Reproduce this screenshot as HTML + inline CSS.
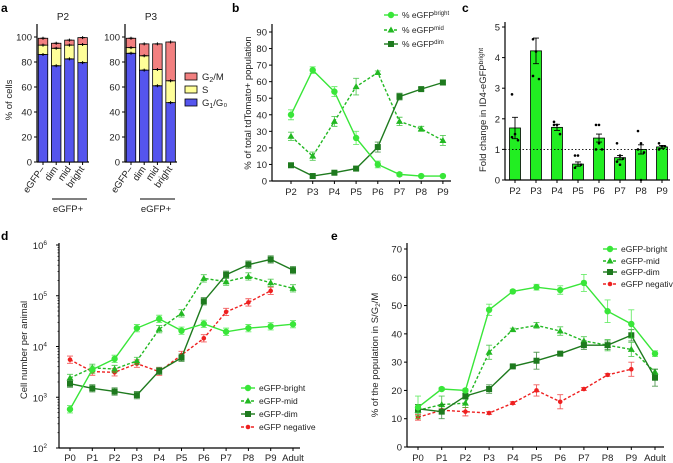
<!DOCTYPE html>
<html><head><meta charset="utf-8">
<style>
html,body{margin:0;padding:0;background:#fff}
svg{display:block;font-family:"Liberation Sans",Arial,sans-serif}
</style></head>
<body>
<svg id="fig" width="673" height="463" viewBox="0 0 673 463" xmlns="http://www.w3.org/2000/svg"></svg>
<script>
// ---------- Panel a data ----------
const aCats = ["eGFP–","dim","mid","bright"];
const aP2G1 = [86,77,82.5,79.5];
const aP2S = [93.5,91,93.5,94];
const aP2Tot = [99,95,97.5,99.5];
const aP3G1 = [87,73.5,61,47.5];
const aP3S = [91.5,85,74,65];
const aP3Tot = [99,94.5,94.5,96];
const aTicks = [0,20,40,60,80,100];
// ---------- Panel b data ----------
const bCats = ["P2","P3","P4","P5","P6","P7","P8","P9"];
const bBright = [40,67,54,26,10,4,3,3];
const bBrightErr = [3,2,3,4,2,1,0.5,0.5];
const bMid = [27,15,36,57,65.5,36,31.5,24.5];
const bMidErr = [2.5,2.5,3,5,1,2.5,1.5,3];
const bDim = [9.5,3,5,7.5,20.5,51,55.5,59.5];
const bDimErr = [1,1,1,1,3,2,1,1.5];
const bTicks = [0,10,20,30,40,50,60,70,80,90];
// ---------- Panel c data ----------
const cCats = ["P2","P3","P4","P5","P6","P7","P8","P9"];
const cVals = [1.7,4.22,1.72,0.52,1.37,0.73,1.0,1.08];
const cErr = [0.35,0.42,0.1,0.07,0.13,0.07,0.15,0.05];
const cDots = [[2.8,1.5,1.3,1.4],[4.6,4.2,3.3,3.4],[1.9,1.8,1.5,1.8],[0.8,0.8,0.5,0.4],[1.8,1.8,1.0,1.0,1.2],[1.2,0.8,0.7,0.6,0.5],[1.6,1.2,0.9,1.0,0.0],[1.2,1.1,1.1,1.0,1.1]];
const cTicks = [0,1,2,3,4,5];
// ---------- Panel d data ----------
const dCats = ["P0","P1","P2","P3","P4","P5","P6","P7","P8","P9","Adult"];
const dBright = [580,3500,5700,23000,35000,20500,28000,19500,23000,25000,27500];
const dMid = [2400,3800,3600,5200,22000,45000,220000,190000,240000,180000,140000];
const dDim = [1850,1500,1300,1100,3300,6000,78000,260000,410000,520000,320000];
const dNeg = [5500,3200,3100,4600,3200,6800,14500,48000,74000,125000,null];
const dTickExp = [2,3,4,5,6];
// ---------- Panel e data ----------
const eCats = ["P0","P1","P2","P3","P4","P5","P6","P7","P8","P9","Adult"];
const eBright = [14,20.5,20,48.5,55,56.5,55.5,58,48,43.5,33];
const eBrightErr = [4,0.5,0.5,2,0.5,1,1.5,3,4,5,1];
const eMid = [13,15,15.5,33.5,41.5,43,41,37.5,36,34.5,26.5];
const eMidErr = [2,3,1.5,2.5,0.5,1,1.5,1.5,2,2.5,1];
const eDim = [13.5,12.5,18,20.5,28.5,30.5,33,36,36,39.5,24.5];
const eDimErr = [1.5,2.5,1,1.5,0.5,3,0.5,1.5,1.5,2,3];
const eNeg = [10.5,13,12.5,12,15.5,20,16,20.5,25.5,27.5,null];
const eNegErr = [1,0.5,1.5,0.5,0.5,2,2.5,0.5,0.5,2.5,0];
const eTicks = [0,10,20,30,40,50,60,70];

const C_BRIGHT="#39e639", C_MID="#22b822", C_DIM="#1e7a1e", C_NEG="#ee2020";
const NS="http://www.w3.org/2000/svg";
const svg=document.getElementById('fig');
function mk(tag,attrs,parent){const e=document.createElementNS(NS,tag);for(const k in attrs)e.setAttribute(k,attrs[k]);(parent||svg).appendChild(e);return e;}
function txt(s,x,y,size,anchor,parent,extra){const t=mk('text',Object.assign({x:x,y:y,'font-size':size,'text-anchor':anchor||'start',fill:'#222'},extra||{}),parent);t.textContent=s;return t;}
function grp(name){const g=mk('g',{});return g;}

// panel letters
[["a",1,12],["b",232,12],["c",462,12],["d",1,240],["e",331,240]].forEach(p=>{
  const t=txt(p[0],p[1],p[2],12,'start',svg,{'font-weight':'bold',fill:'#000'});
  
  
});

// ===== Panel a =====
function stackPanel(name,x0,g1,s,tot,title){
  const g=grp(name);
  const y0=162,y100=37;
  const ya=v=>y0+(y100-y0)*v/100;
  mk('line',{x1:x0,y1:24,x2:x0,y2:y0,stroke:'#000','stroke-width':1.2},g);
  mk('line',{x1:x0,y1:y0,x2:x0+52,y2:y0,stroke:'#000','stroke-width':1.2},g);
  aTicks.forEach(v=>{mk('line',{x1:x0-3,y1:ya(v),x2:x0,y2:ya(v),stroke:'#000'},g);txt(String(v),x0-5,ya(v)+3.5,9.5,'end',g);});
  const tt=txt(title,x0+26,20,10,'middle',g);
  
  
  aCats.forEach((c,i)=>{
    const cx=x0+6+i*13.2, w=9.5;
    const segs=[[0,g1[i],'#5555ee'],[g1[i],s[i],'#ffff99'],[s[i],tot[i],'#f28080']];
    segs.forEach((sg,j)=>{
      const r=mk('rect',{x:cx-w/2,y:ya(sg[1]),width:w,height:ya(sg[0])-ya(sg[1]),fill:sg[2],stroke:'#000','stroke-width':0.8},g);
      
      
    });
    [g1[i],s[i],tot[i]].forEach(v=>{mk('line',{x1:cx-2.5,y1:ya(v),x2:cx+2.5,y2:ya(v),stroke:'#000','stroke-width':1},g);mk('line',{x1:cx,y1:ya(v)-1.5,x2:cx,y2:ya(v)+1.5,stroke:'#000','stroke-width':1},g);});
    mk('line',{x1:cx,y1:y0,x2:cx,y2:y0+3,stroke:'#000'},g);
    txt(c,cx+2,y0+7,9.5,'end',g,{transform:'rotate(-55 '+(cx+2)+' '+(y0+7)+')'});
  });
  mk('line',{x1:x0+15,y1:199,x2:x0+50,y2:199,stroke:'#000','stroke-width':1},g);
  txt('eGFP+',x0+31,212,9.5,'middle',g);
}
stackPanel('panel-a-p2',37,aP2G1,aP2S,aP2Tot,'P2');
stackPanel('panel-a-p3',125,aP3G1,aP3S,aP3Tot,'P3');
(function(){const g=grp('panel-a-ylabel');txt('% of cells',12,100,9.5,'middle',g,{transform:'rotate(-90 12 100)'});})();
(function(){const g=grp('panel-a-legend');
  [['G','2','/M','#f28080',77],['S','','','#ffff99',90],['G','1','/G₀','#5555ee',103]].forEach(l=>{
    mk('rect',{x:185,y:l[4]-4,width:12,height:7,fill:l[3],stroke:'#000','stroke-width':0.8},g);
    const t=txt(l[0],202,l[4]+3,9.5,'start',g);
    if(l[1]){const s=mk('tspan',{'font-size':7,dy:2},t);s.textContent=l[1];const s2=mk('tspan',{dy:-2},t);s2.textContent=l[2];}
  });})();

// generic marker
function marker(shape,x,y,color,g){
  if(shape==='circle')return mk('circle',{cx:x,cy:y,r:3.2,fill:color},g);
  if(shape==='tri')return mk('polygon',{points:`${x},${y-3.5} ${x-3.5},${y+2.5} ${x+3.5},${y+2.5}`,fill:color},g);
  if(shape==='sq')return mk('rect',{x:x-3,y:y-3,width:6,height:6,fill:color},g);
  return mk('circle',{cx:x,cy:y,r:2.3,fill:color},g);
}
function series(name,vals,errs,xf,yf,color,shape,dash,g,errIsRatio){
  const sg=grp(name);g.appendChild(sg);
  const pts=[];vals.forEach((v,i)=>{if(v!=null)pts.push([xf(i),yf(v),v,i]);});
  const p=mk('polyline',{points:pts.map(p=>p[0]+','+p[1]).join(' '),fill:'none',stroke:color,'stroke-width':1.4,'stroke-dasharray':dash||'none'},sg);
  
  
  pts.forEach(pt=>{
    if(errs){const e=errs[pt[3]]||0;let y1,y2;
      if(errIsRatio){y1=yf(pt[2]*(1+e));y2=yf(pt[2]/(1+e));}else{y1=yf(pt[2]+e);y2=yf(pt[2]-e);}
      mk('path',{d:`M${pt[0]},${y1}V${y2}M${pt[0]-3},${y1}H${pt[0]+3}M${pt[0]-3},${y2}H${pt[0]+3}`,stroke:color,'stroke-width':0.9,fill:'none',opacity:0.75},sg);}
    const m=marker(shape,pt[0],pt[1],color,sg);
    
    
  });
}
function legend(name,items,x,ys,g){
  const lg=grp(name);g.appendChild(lg);
  items.forEach((it,i)=>{
    const y=ys[i];
    mk('line',{x1:x,y1:y,x2:x+14,y2:y,stroke:it.c,'stroke-width':1.4,'stroke-dasharray':it.d||'none'},lg);
    marker(it.s,x+7,y,it.c,lg);
    const t=txt(it.t,x+18,y+3,8.5,'start',lg);
    if(it.sup){const s=mk('tspan',{'font-size':6,dy:-3},t);s.textContent=it.sup;}
    
    
  });
}

// ===== Panel b =====
(function(){
  const g=grp('panel-b');
  const x0=272,y0=181,y90=32;
  const xf=i=>291+i*21.7, yf=v=>y0+(y90-y0)*v/90;
  mk('line',{x1:x0,y1:24,x2:x0,y2:y0,stroke:'#000','stroke-width':1.2},g);
  mk('line',{x1:x0,y1:y0,x2:451,y2:y0,stroke:'#000','stroke-width':1.2},g);
  bTicks.forEach(v=>{mk('line',{x1:x0-3,y1:yf(v),x2:x0,y2:yf(v),stroke:'#000'},g);txt(String(v),x0-5,yf(v)+3.5,9.5,'end',g);});
  bCats.forEach((c,i)=>{mk('line',{x1:xf(i),y1:y0,x2:xf(i),y2:y0+3,stroke:'#000'},g);txt(c,xf(i),y0+14,9.5,'middle',g);});
  txt('% of total tdTomato+ population',251,103,9.5,'middle',g,{transform:'rotate(-90 251 103)'});
  series('b-series-mid',bMid,bMidErr,xf,yf,C_MID,'tri','3,2',g);
  series('b-series-dim',bDim,bDimErr,xf,yf,C_DIM,'sq',null,g);
  series('b-series-bright',bBright,bBrightErr,xf,yf,C_BRIGHT,'circle',null,g);
  legend('b-legend',[{t:'% eGFP',sup:'bright',c:C_BRIGHT,s:'circle'},{t:'% eGFP',sup:'mid',c:C_MID,s:'tri',d:'3,2'},{t:'% eGFP',sup:'dim',c:C_DIM,s:'sq'}],384,[15,30,44],g);
})();

// ===== Panel c =====
(function(){
  const g=grp('panel-c');
  const x0=505,y0=180,y5=27;
  const xf=i=>515+i*21, yf=v=>y0+(y5-y0)*v/5;
  cVals.forEach((v,i)=>{
    const r=mk('rect',{x:xf(i)-5.5,y:yf(v),width:11,height:y0-yf(v),fill:'#22ee22',stroke:'#000','stroke-width':0.8},g);
    
    
    const e=cErr[i];
    mk('path',{d:`M${xf(i)},${yf(v+e)}V${yf(v-e)}M${xf(i)-3},${yf(v+e)}H${xf(i)+3}M${xf(i)-3},${yf(v-e)}H${xf(i)+3}`,stroke:'#000','stroke-width':0.9,fill:'none'},g);
    cDots[i].forEach((d,j)=>mk('circle',{cx:xf(i)-3+(j%3)*3,cy:yf(d),r:1.3,fill:'#000'},g));
  });
  mk('line',{x1:x0,y1:yf(1),x2:670,y2:yf(1),stroke:'#000','stroke-width':0.9,'stroke-dasharray':'1.5,2'},g);
  mk('line',{x1:x0,y1:22,x2:x0,y2:y0,stroke:'#000','stroke-width':1.2},g);
  mk('line',{x1:x0,y1:y0,x2:670,y2:y0,stroke:'#000','stroke-width':1.2},g);
  cTicks.forEach(v=>{mk('line',{x1:x0-3,y1:yf(v),x2:x0,y2:yf(v),stroke:'#000'},g);txt(String(v),x0-5,yf(v)+3.5,9.5,'end',g);});
  cCats.forEach((c,i)=>{mk('line',{x1:xf(i),y1:y0,x2:xf(i),y2:y0+3,stroke:'#000'},g);txt(c,xf(i),y0+14,9.5,'middle',g);});
  const t=txt('Fold change in ID4-eGFP',486,110,9.5,'middle',g,{transform:'rotate(-90 486 110)'});
  const s=mk('tspan',{'font-size':6.5,dy:-3},t);s.textContent='bright';
})();

// ===== Panel d =====
(function(){
  const g=grp('panel-d');
  const x0=59,y6=245,y2=448;
  const xf=i=>70+i*22.3, yf=v=>y2+(y6-y2)*(Math.log10(v)-2)/4;
  mk('line',{x1:x0,y1:y6-2,x2:x0,y2:y2,stroke:'#000','stroke-width':1.2},g);
  mk('line',{x1:x0,y1:y2,x2:300,y2:y2,stroke:'#000','stroke-width':1.2},g);
  dTickExp.forEach(e=>{const y=yf(Math.pow(10,e));mk('line',{x1:x0-3,y1:y,x2:x0,y2:y,stroke:'#000'},g);
    for(let k=2;k<10&&e<6;k++){const yy=yf(k*Math.pow(10,e));mk('line',{x1:x0-1.5,y1:yy,x2:x0,y2:yy,stroke:'#000','stroke-width':0.7},g);}
    const t=txt('10',x0-12,y+4,9.5,'end',g);const s=mk('tspan',{'font-size':6.5,dy:-4},t);s.textContent=String(e);});
  dCats.forEach((c,i)=>{mk('line',{x1:xf(i),y1:y2,x2:xf(i),y2:y2+3,stroke:'#000'},g);txt(c,xf(i),y2+13,9.5,'middle',g);});
  txt('Cell number per animal',27,350,9.5,'middle',g,{transform:'rotate(-90 27 350)'});
  const pe=dCats.map(()=>0.18);
  series('d-series-neg',dNeg,pe,xf,yf,C_NEG,'dot','3,2',g,true);
  series('d-series-mid',dMid,pe,xf,yf,C_MID,'tri','3,2',g,true);
  series('d-series-dim',dDim,pe,xf,yf,C_DIM,'sq',null,g,true);
  series('d-series-bright',dBright,pe,xf,yf,C_BRIGHT,'circle',null,g,true);
  legend('d-legend',[{t:'eGFP-bright',c:C_BRIGHT,s:'circle'},{t:'eGFP-mid',c:C_MID,s:'tri',d:'3,2'},{t:'eGFP-dim',c:C_DIM,s:'sq'},{t:'eGFP negative',c:C_NEG,s:'dot',d:'3,2'}],241,[388,401,414,427],g);
})();

// ===== Panel e =====
(function(){
  const g=grp('panel-e');
  const x0=407,y0=447,y70=249;
  const xf=i=>418+i*23.7, yf=v=>y0+(y70-y0)*v/70;
  mk('line',{x1:x0,y1:243,x2:x0,y2:y0,stroke:'#000','stroke-width':1.2},g);
  mk('line',{x1:x0,y1:y0,x2:664,y2:y0,stroke:'#000','stroke-width':1.2},g);
  eTicks.forEach(v=>{mk('line',{x1:x0-3,y1:yf(v),x2:x0,y2:yf(v),stroke:'#000'},g);txt(String(v),x0-5,yf(v)+3.5,9.5,'end',g);});
  eCats.forEach((c,i)=>{mk('line',{x1:xf(i),y1:y0,x2:xf(i),y2:y0+3,stroke:'#000'},g);txt(c,xf(i),y0+14,9.5,'middle',g);});
  const t=txt('% of the population in S/G',378,355,9.5,'middle',g,{transform:'rotate(-90 378 355)'});
  const s=mk('tspan',{'font-size':6.5,dy:2},t);s.textContent='2';const s2=mk('tspan',{dy:-2},t);s2.textContent='/M';
  series('e-series-neg',eNeg,eNegErr,xf,yf,C_NEG,'dot','3,2',g);
  series('e-series-mid',eMid,eMidErr,xf,yf,C_MID,'tri','3,2',g);
  series('e-series-dim',eDim,eDimErr,xf,yf,C_DIM,'sq',null,g);
  series('e-series-bright',eBright,eBrightErr,xf,yf,C_BRIGHT,'circle',null,g);
  legend('e-legend',[{t:'eGFP-bright',c:C_BRIGHT,s:'circle'},{t:'eGFP-mid',c:C_MID,s:'tri',d:'3,2'},{t:'eGFP-dim',c:C_DIM,s:'sq'},{t:'eGFP negative',c:C_NEG,s:'dot',d:'3,2'}],603,[249,261,272,284],g);
})();
</script>
</body></html>
